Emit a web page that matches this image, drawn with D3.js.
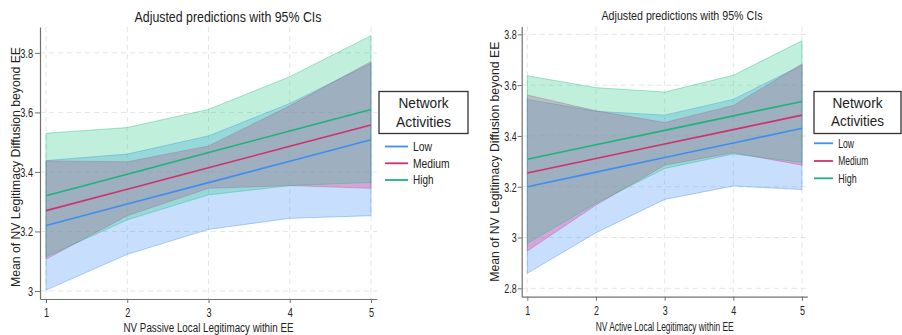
<!DOCTYPE html>
<html>
<head>
<meta charset="utf-8">
<script src="https://cdn.jsdelivr.net/npm/d3@7"></script>
<style>
  html, body { margin: 0; padding: 0; background: #fff; }
  svg { display: block; }
  text { font-family: "Liberation Sans", Arial, sans-serif; fill: #222; }
</style>
</head>
<body>
<svg id="chart" width="902" height="335"></svg>
<script>
// ---------------- DATA ----------------
const xValues = [1, 2, 3, 4, 5];
const seriesNames = ["Low", "Medium", "High"];
const chartTitle = "Adjusted predictions with 95% CIs";
const yAxisTitle = "Mean of NV Legitimacy Diffusion beyond EE";
const legendTitleLines = ["Network", "Activities"];

// Left panel: NV Passive Local Legitimacy within EE
const passiveXTitle = "NV Passive Local Legitimacy within EE";
const passiveYTicks = [3, 3.2, 3.4, 3.6, 3.8];
const passiveLow = [3.22, 3.292, 3.364, 3.436, 3.508];
const passiveLowLower = [3.003, 3.123, 3.207, 3.244, 3.253];
const passiveLowUpper = [3.438, 3.46, 3.521, 3.63, 3.765];
const passiveMedium = [3.27, 3.342, 3.414, 3.486, 3.558];
const passiveMediumLower = [3.107, 3.253, 3.345, 3.354, 3.345];
const passiveMediumUpper = [3.437, 3.434, 3.487, 3.622, 3.771];
const passiveHigh = [3.32, 3.3925, 3.465, 3.5375, 3.61];
const passiveHighLower = [3.115, 3.239, 3.323, 3.354, 3.365];
const passiveHighUpper = [3.53, 3.549, 3.61, 3.72, 3.858];

// Right panel: NV Active Local Legitimacy within EE
const activeXTitle = "NV Active Local Legitimacy within EE";
const activeYTicks = [2.8, 3, 3.2, 3.4, 3.6, 3.8];
const activeLow = [3.2, 3.2575, 3.315, 3.3725, 3.43];
const activeLowLower = [2.859, 3.019, 3.15, 3.203, 3.189];
const activeLowUpper = [3.544, 3.497, 3.482, 3.544, 3.679];
const activeMedium = [3.254, 3.311, 3.368, 3.425, 3.482];
const activeMediumLower = [2.947, 3.128, 3.285, 3.334, 3.285];
const activeMediumUpper = [3.561, 3.499, 3.453, 3.52, 3.683];
const activeHigh = [3.308, 3.365, 3.422, 3.479, 3.536];
const activeHighLower = [2.977, 3.135, 3.272, 3.329, 3.296];
const activeHighUpper = [3.637, 3.59, 3.573, 3.639, 3.775];

// ---------------- STYLE ----------------
const lineColors = { Low: "#3d8ef0", Medium: "#d0306c", High: "#1eb27c" };
const bandFills = {
  Low: "rgba(80,155,250,0.32)",
  Medium: "rgba(229,40,130,0.30)",
  High: "rgba(30,200,130,0.28)"
};
const bandStrokes = {
  Low: "rgba(80,150,245,0.45)",
  Medium: "rgba(200,60,140,0.35)",
  High: "rgba(30,190,130,0.40)"
};

const svg = d3.select("#chart");

function condensedText(g, str, x, y, size, width, anchor, rotate) {
  const t = g.append("text")
    .attr("font-size", size)
    .attr("text-anchor", anchor || "middle")
    .attr("textLength", width)
    .attr("lengthAdjust", "spacingAndGlyphs")
    .text(str);
  if (rotate) {
    t.attr("transform", `translate(${x},${y}) rotate(${rotate})`);
  } else {
    t.attr("x", x).attr("y", y);
  }
  return t;
}

function drawPanel(p) {
  const g = svg.append("g");
  const x = d3.scaleLinear().domain(p.xDomain).range([p.left, p.right]);
  const y = d3.scaleLinear().domain(p.yDomain).range([p.bottom, p.top]);

  // grid
  g.append("g").selectAll("line.h").data(p.yTicks).join("line")
    .attr("x1", p.left).attr("x2", p.right)
    .attr("y1", d => y(d)).attr("y2", d => y(d))
    .attr("stroke", "#e4e4e4").attr("stroke-dasharray", "5,4");
  g.append("g").selectAll("line.v").data(xValues).join("line")
    .attr("x1", d => x(d)).attr("x2", d => x(d))
    .attr("y1", p.top).attr("y2", p.bottom)
    .attr("stroke", "#e4e4e4").attr("stroke-dasharray", "5,4");

  // bands
  const area = d3.area()
    .x((d, i) => x(xValues[i]))
    .y0(d => y(d[0])).y1(d => y(d[1]));
  seriesNames.forEach(name => {
    const s = p.series[name];
    const pts = s.lower.map((v, i) => [v, s.upper[i]]);
    g.append("path").datum(pts)
      .attr("d", area)
      .attr("fill", bandFills[name])
      .attr("stroke", bandStrokes[name])
      .attr("stroke-width", 1);
  });

  // lines
  const line = d3.line().x((d, i) => x(xValues[i])).y(d => y(d));
  seriesNames.forEach(name => {
    g.append("path").datum(p.series[name].mean)
      .attr("d", line)
      .attr("fill", "none")
      .attr("stroke", lineColors[name])
      .attr("stroke-width", 1.6);
  });

  // axes
  const fmt = d => d3.format(".1f")(d).replace(/\.0$/, "");
  const yAxis = g.append("g").attr("transform", `translate(${p.left},0)`)
    .call(d3.axisLeft(y).tickValues(p.yTicks).tickFormat(fmt)
      .tickSize(p.yTickSize).tickPadding(p.yTickPad).tickSizeOuter(0));
  const xAxis = g.append("g").attr("transform", `translate(0,${p.bottom})`)
    .call(d3.axisBottom(x).tickValues(xValues).tickFormat(d3.format("d"))
      .tickSize(p.xTickSize).tickPadding(p.xTickPad).tickSizeOuter(0));
  [yAxis, xAxis].forEach(a => {
    a.select(".domain").attr("stroke", "#707070").attr("stroke-width", 1.2);
    a.selectAll(".tick line").attr("stroke", "#707070");
    a.selectAll(".tick text").attr("font-size", p.tickFont)
      .attr("font-family", "Liberation Sans, Arial, sans-serif").attr("fill", "#222");
  });
  // condense tick labels horizontally
  yAxis.selectAll(".tick text").each(function () {
    const t = d3.select(this);
    const xx = +t.attr("x");
    t.attr("x", xx / p.tickScale).attr("transform", `scale(${p.tickScale},1)`);
  });
  xAxis.selectAll(".tick text").attr("transform", `scale(${p.tickScale},1)`);

  // titles
  condensedText(g, chartTitle, p.titleX, p.titleY, p.titleFont, p.titleW, "middle");
  condensedText(g, p.xTitle, x(3), p.xTitleY, p.xTitleFont, p.xTitleW, "middle");
  condensedText(g, yAxisTitle, p.yTitleX, p.yTitleY, p.yTitleFont, p.yTitleW, "middle", -90);

  // legend
  const L = p.legend;
  g.append("rect").attr("x", L.x).attr("y", L.y).attr("width", L.w).attr("height", L.h)
    .attr("fill", "#fff").attr("stroke", "#333").attr("stroke-width", 1.3);
  legendTitleLines.forEach((s, i) => {
    condensedText(g, s, L.x + L.w / 2 + (L.titleDx || 0), L.titleY[i], L.titleFont, L.titleW[i], "middle");
  });
  seriesNames.forEach((name, i) => {
    g.append("line").attr("x1", L.lineX1).attr("x2", L.lineX2)
      .attr("y1", L.itemY[i]).attr("y2", L.itemY[i])
      .attr("stroke", lineColors[name]).attr("stroke-width", 1.8);
    condensedText(g, name, L.textX, L.itemY[i] + 4.3, L.itemFont, L.itemW[i], "start");
  });
}

drawPanel({
  left: 40, right: 377, top: 27, bottom: 299,
  xDomain: [0.926, 5.074], yDomain: [2.973, 3.887],
  yTicks: passiveYTicks,
  yTickSize: 5, yTickPad: 2, xTickSize: 4, xTickPad: 4,
  tickFont: 13.5, tickScale: 0.68,
  series: {
    Low: { mean: passiveLow, lower: passiveLowLower, upper: passiveLowUpper },
    Medium: { mean: passiveMedium, lower: passiveMediumLower, upper: passiveMediumUpper },
    High: { mean: passiveHigh, lower: passiveHighLower, upper: passiveHighUpper }
  },
  titleX: 228, titleY: 22, titleFont: 14.5, titleW: 187,
  xTitle: passiveXTitle, xTitleY: 331.5, xTitleFont: 12.5, xTitleW: 170,
  yTitleX: 19.5, yTitleY: 167, yTitleFont: 12, yTitleW: 240,
  legend: {
    x: 379, y: 91.5, w: 89, h: 42, titleY: [108, 126.5], titleFont: 14, titleW: [50, 55],
    lineX1: 385, lineX2: 408, itemY: [146.5, 163.3, 180], textX: 413,
    itemFont: 12, itemW: [19, 36.5, 20.5]
  }
});

drawPanel({
  left: 521.7, right: 807.3, top: 26.5, bottom: 296.7,
  xDomain: [0.918, 5.077], yDomain: [2.767, 3.831],
  yTicks: activeYTicks,
  yTickSize: 4, yTickPad: 1, xTickSize: 4, xTickPad: 5,
  tickFont: 13.5, tickScale: 0.66,
  series: {
    Low: { mean: activeLow, lower: activeLowLower, upper: activeLowUpper },
    Medium: { mean: activeMedium, lower: activeMediumLower, upper: activeMediumUpper },
    High: { mean: activeHigh, lower: activeHighLower, upper: activeHighUpper }
  },
  titleX: 682, titleY: 20, titleFont: 13.5, titleW: 161,
  xTitle: activeXTitle, xTitleY: 331, xTitleFont: 12.5, xTitleW: 138,
  yTitleX: 499, yTitleY: 161.7, yTitleFont: 12, yTitleW: 240,
  legend: {
    x: 814, y: 91.5, w: 87, h: 42, titleDx: 0, titleY: [108, 125.5], titleFont: 14, titleW: [50, 53],
    lineX1: 814, lineX2: 833, itemY: [143.3, 161, 178.3], textX: 838.3,
    itemFont: 12, itemW: [15.7, 30, 18.3]
  }
});
</script>
</body>
</html>
